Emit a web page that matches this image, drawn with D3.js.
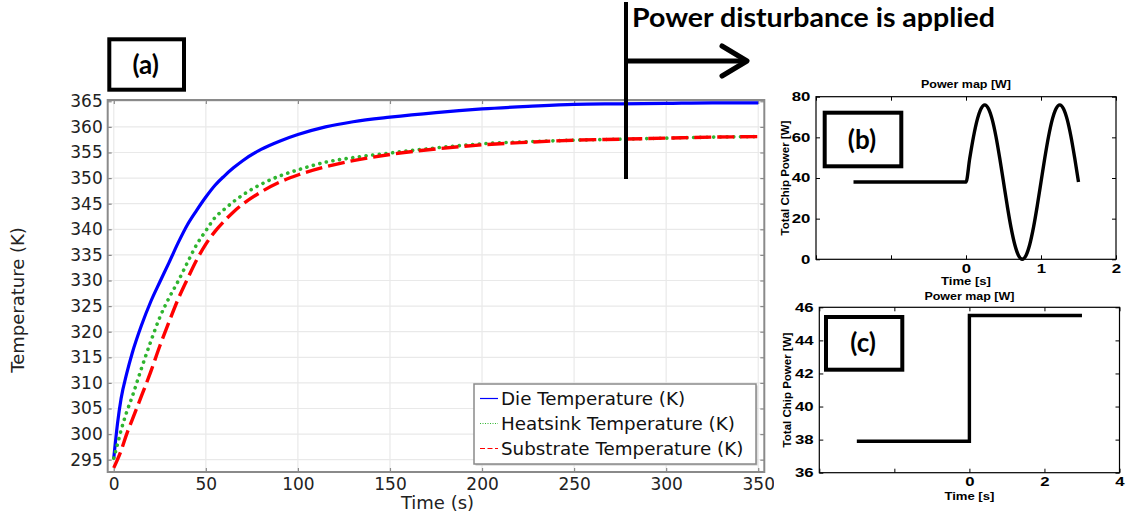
<!DOCTYPE html>
<html>
<head>
<meta charset="utf-8">
<script src="https://cdn.jsdelivr.net/npm/d3@7"></script>
<style>
  body { margin: 0; background: #fff; }
  svg { display: block; }
</style>
</head>
<body>
<div class="figure"></div>
<script>
// main chart (a): temperatures
const timeS = [0, 2, 4, 7, 10, 15, 20, 25, 30, 35, 40, 45, 50, 55, 60, 65, 70, 80, 90, 100, 115, 130, 150, 175, 200, 225, 250, 275, 300, 325, 350];
const dieTemp = [295.3, 302.0, 307.0, 311.8, 315.8, 321.2, 325.8, 329.7, 333.5, 337.4, 340.9, 343.7, 346.3, 348.6, 350.4, 352.0, 353.4, 355.6, 357.2, 358.5, 360.0, 361.0, 361.9, 362.8, 363.5, 364.0, 364.4, 364.5, 364.6, 364.7, 364.7];
const heatsinkTemp = [295.3, 298.0, 300.8, 304.3, 307.3, 312.8, 318.0, 322.8, 326.6, 329.9, 333.5, 337.0, 339.7, 342.3, 343.9, 345.4, 346.7, 348.8, 350.4, 351.6, 353.1, 354.0, 354.9, 355.9, 356.7, 357.1, 357.4, 357.6, 357.8, 358.0, 358.1];
const substrateTemp = [293.4, 295.0, 296.8, 300.0, 302.8, 307.4, 312.1, 317.2, 321.9, 326.4, 330.3, 334.0, 337.1, 339.6, 341.6, 343.4, 344.9, 347.3, 349.2, 350.6, 352.2, 353.4, 354.6, 355.7, 356.5, 357.0, 357.4, 357.6, 357.8, 358.0, 358.1];
const seriesNames = ["Die Temperature (K)", "Heatsink Temperature (K)", "Substrate Temperature (K)"];
const tempTicks = [295, 300, 305, 310, 315, 320, 325, 330, 335, 340, 345, 350, 355, 360, 365];
const timeTicks = [0, 50, 100, 150, 200, 250, 300, 350];

// subplot (b): sinusoidal power map
const powerBTime = [-1.5, 0, 0.05, 0.1, 0.15, 0.2, 0.25, 0.3, 0.35, 0.4, 0.45, 0.5, 0.55, 0.6, 0.65, 0.7, 0.75, 0.8, 0.85, 0.9, 0.95, 1.0, 1.05, 1.1, 1.15, 1.2, 1.25, 1.3, 1.35, 1.4, 1.45, 1.5];
const powerBWatt = [38, 38, 49.7, 60.3, 68.7, 74.1, 76, 74.1, 68.7, 60.3, 49.7, 38, 26.3, 15.7, 7.3, 1.9, 0, 1.9, 7.3, 15.7, 26.3, 38, 49.7, 60.3, 68.7, 74.1, 76, 74.1, 68.7, 60.3, 49.7, 38];
const powerBXTicks = [-2, -1, 0, 1, 2];
const powerBYTicks = [0, 20, 40, 60, 80];

// subplot (c): step power map
const powerCTime = [-3, 0, 0, 3];
const powerCWatt = [37.9, 37.9, 45.5, 45.5];
const powerCXTicks = [-4, -2, 0, 2, 4];
const powerCYTicks = [36, 38, 40, 42, 44, 46];

const W = 1126, H = 516;
const mainFont = "'DejaVu Sans', sans-serif";
const subFont = "'Liberation Sans', Arial, sans-serif";
const calloutFont = "Lato, 'Open Sans', sans-serif";

const svg = d3.select(".figure").append("svg")
    .attr("width", W)
    .attr("height", H);

svg.append("defs").append("clipPath")
    .attr("id", "mainClip")
    .append("rect")
    .attr("x", 0).attr("y", 0)
    .attr("width", 774).attr("height", H);

// ---------- main chart ----------
const main = svg.append("g").attr("clip-path", "url(#mainClip)");
const px0 = 107.7, px1 = 764.3, py0 = 100, py1 = 472;
const x = d3.scaleLinear().domain([-3.3, 353.3]).range([px0, px1]);
const y = d3.scaleLinear().domain([292.6, 365.25]).range([py1, py0]);

main.append("g")
    .selectAll("line")
    .data(timeTicks)
    .enter()
    .append("line")
    .attr("x1", d => x(d)).attr("x2", d => x(d))
    .attr("y1", py0).attr("y2", py1)
    .attr("stroke", "#e9e9e9")
    .attr("stroke-width", 1.2);
main.append("g")
    .selectAll("line")
    .data(tempTicks)
    .enter()
    .append("line")
    .attr("x1", px0).attr("x2", px1)
    .attr("y1", d => y(d)).attr("y2", d => y(d))
    .attr("stroke", "#e9e9e9")
    .attr("stroke-width", 1.2);

const axisStyle = (g) => {
    g.select(".domain").remove();
    g.selectAll(".tick line").attr("stroke", "#8a8a8a").attr("stroke-width", 1.2);
    g.selectAll(".tick text")
        .attr("font-family", mainFont)
        .attr("font-size", 17)
        .attr("fill", "#222");
};

main.append("g")
    .attr("transform", `translate(${px0},0)`)
    .call(d3.axisLeft(y).tickValues(tempTicks).tickSize(-4).tickPadding(5).tickFormat(d3.format("d")))
    .call(axisStyle);
main.append("g")
    .attr("transform", `translate(0,${py1})`)
    .call(d3.axisBottom(x).tickValues(timeTicks).tickSize(-4).tickPadding(6).tickFormat(d3.format("d")))
    .call(axisStyle);
main.append("g")
    .attr("transform", `translate(0,${py0})`)
    .call(d3.axisTop(x).tickValues(timeTicks).tickSize(-4).tickFormat(""))
    .call(axisStyle);
main.append("g")
    .attr("transform", `translate(${px1},0)`)
    .call(d3.axisRight(y).tickValues(tempTicks).tickSize(-4).tickFormat(""))
    .call(axisStyle);

main.append("rect")
    .attr("x", px0).attr("y", py0)
    .attr("width", px1 - px0).attr("height", py1 - py0)
    .attr("fill", "none")
    .attr("stroke", "#8a8a8a")
    .attr("stroke-width", 2);

const tempLine = (vals) => d3.line()
    .x((d, i) => x(timeS[i]))
    .y(d => y(d))
    .curve(d3.curveMonotoneX)(vals);

main.append("path")
    .attr("d", tempLine(dieTemp))
    .attr("fill", "none")
    .attr("stroke", "#0000ff")
    .attr("stroke-width", 3.2);
main.append("path")
    .attr("d", tempLine(heatsinkTemp))
    .attr("fill", "none")
    .attr("stroke", "#2fb52f")
    .attr("stroke-width", 3.6)
    .attr("stroke-linecap", "round")
    .attr("stroke-dasharray", "0.1,6.6");
main.append("path")
    .attr("d", tempLine(substrateTemp))
    .attr("fill", "none")
    .attr("stroke", "#ff0000")
    .attr("stroke-width", 3.4)
    .attr("stroke-dasharray", "17,6");

main.append("text")
    .attr("transform", "translate(19,300) rotate(-90)")
    .attr("text-anchor", "middle")
    .attr("dominant-baseline", "middle")
    .attr("font-family", mainFont)
    .attr("font-size", 18)
    .attr("fill", "#222")
    .text("Temperature (K)");
main.append("text")
    .attr("x", 437.5).attr("y", 509)
    .attr("text-anchor", "middle")
    .attr("font-family", mainFont)
    .attr("font-size", 18)
    .attr("fill", "#222")
    .text("Time (s)");

// legend
const legend = main.append("g").attr("transform", "translate(474,384)");
legend.append("rect")
    .attr("x", 1.5).attr("y", 1.5)
    .attr("width", 282).attr("height", 80)
    .attr("fill", "#c8c8c8");
legend.append("rect")
    .attr("width", 282).attr("height", 80)
    .attr("fill", "#fff")
    .attr("stroke", "#8a8a8a")
    .attr("stroke-width", 1.5);
const legendColors = ["#0000ff", "#2fb52f", "#ff0000"];
const legendDash = [null, "1,1.5", "5,2.5"];
seriesNames.forEach((name, i) => {
    legend.append("line")
        .attr("x1", 6).attr("x2", 24)
        .attr("y1", 14.5 + i * 25).attr("y2", 14.5 + i * 25)
        .attr("stroke", legendColors[i])
        .attr("stroke-width", 1.2)
        .attr("stroke-dasharray", legendDash[i]);
    legend.append("text")
        .attr("x", 27).attr("y", 20.5 + i * 25)
        .attr("font-family", mainFont)
        .attr("font-size", 18.3)
        .attr("fill", "#111")
        .text(name);
});

// ---------- small power-map subplots ----------
function powerPlot(opts) {
    const g = svg.append("g");
    const sx = d3.scaleLinear().domain(opts.xDomain).range([opts.left, opts.right]);
    const sy = d3.scaleLinear().domain(opts.yDomain).range([opts.bottom, opts.top]);
    const stretch = 1.4;

    const subStyle = (a) => {
        a.select(".domain").remove();
        a.selectAll(".tick line").attr("stroke", "#000").attr("stroke-width", 1);
        a.selectAll(".tick text")
            .attr("font-family", subFont)
            .attr("font-weight", "bold")
            .attr("font-size", 12)
            .attr("fill", "#000");
    };

    g.append("g")
        .attr("transform", `translate(0,${opts.bottom})`)
        .call(d3.axisBottom(sx).tickValues(opts.xTicks).tickSize(-4).tickPadding(5)
            .tickFormat(d => d < 0 ? "" : d3.format("d")(d)))
        .call(subStyle)
        .selectAll(".tick text")
        .attr("transform", `scale(${stretch},1)`);
    g.append("g")
        .attr("transform", `translate(0,${opts.top})`)
        .call(d3.axisTop(sx).tickValues(opts.xTicks).tickSize(-4).tickFormat(""))
        .call(subStyle);
    g.append("g")
        .attr("transform", `translate(${opts.left},0)`)
        .call(d3.axisLeft(sy).tickValues(opts.yTicks).tickSize(-4).tickPadding(4).tickFormat(d3.format("d")))
        .call(subStyle)
        .selectAll(".tick text")
        .attr("transform", `scale(${stretch},1)`);
    g.append("g")
        .attr("transform", `translate(${opts.right},0)`)
        .call(d3.axisRight(sy).tickValues(opts.yTicks).tickSize(-4).tickFormat(""))
        .call(subStyle);

    g.append("rect")
        .attr("x", opts.left).attr("y", opts.top)
        .attr("width", opts.right - opts.left).attr("height", opts.bottom - opts.top)
        .attr("fill", "none")
        .attr("stroke", "#000")
        .attr("stroke-width", 1.2);

    g.append("path")
        .attr("d", d3.line()
            .x((d, i) => sx(opts.t[i]))
            .y(d => sy(d))
            .curve(opts.curve)(opts.w))
        .attr("fill", "none")
        .attr("stroke", "#000")
        .attr("stroke-width", 3.4);

    const mid = (opts.left + opts.right) / 2;
    g.append("text")
        .attr("x", mid).attr("y", opts.titleY)
        .attr("text-anchor", "middle")
        .attr("font-family", subFont)
        .attr("font-weight", "bold")
        .attr("font-size", 10)
        .attr("textLength", 90)
        .attr("lengthAdjust", "spacingAndGlyphs")
        .text("Power map [W]");
    g.append("text")
        .attr("x", mid).attr("y", opts.xLabelY)
        .attr("text-anchor", "middle")
        .attr("font-family", subFont)
        .attr("font-weight", "bold")
        .attr("font-size", 10.5)
        .attr("textLength", 50)
        .attr("lengthAdjust", "spacingAndGlyphs")
        .text("Time [s]");
    g.append("text")
        .attr("transform", `translate(${opts.yLabelX},${(opts.top + opts.bottom) / 2}) rotate(-90)`)
        .attr("text-anchor", "middle")
        .attr("dominant-baseline", "middle")
        .attr("font-family", subFont)
        .attr("font-weight", "bold")
        .attr("font-size", 11.5)
        .text("Total Chip Power [W]");
    return g;
}

powerPlot({
    left: 816, right: 1116, top: 96.7, bottom: 259.3,
    xDomain: [-2, 2], yDomain: [0, 80],
    xTicks: powerBXTicks, yTicks: powerBYTicks,
    t: powerBTime, w: powerBWatt, curve: d3.curveMonotoneX,
    titleY: 88, xLabelY: 285, yLabelX: 786
});
powerPlot({
    left: 819.3, right: 1119.5, top: 307.3, bottom: 472.7,
    xDomain: [-4, 4], yDomain: [36, 46],
    xTicks: powerCXTicks, yTicks: powerCYTicks,
    t: powerCTime, w: powerCWatt, curve: d3.curveLinear,
    titleY: 299.5, xLabelY: 500, yLabelX: 788
});

// ---------- panel labels and the disturbance callout ----------
const panels = [
    { label: "(a)", x: 109.3, y: 39.3, w: 74.7, h: 50.4 },
    { label: "(b)", x: 824.7, y: 112.7, w: 76.6, h: 53.6 },
    { label: "(c)", x: 826, y: 317, w: 76.3, h: 52.7 }
];
panels.forEach(p => {
    svg.append("rect")
        .attr("x", p.x).attr("y", p.y)
        .attr("width", p.w).attr("height", p.h)
        .attr("fill", "none")
        .attr("stroke", "#000")
        .attr("stroke-width", 4);
    svg.append("text")
        .attr("x", p.x + p.w / 2 - 1).attr("y", p.y + p.h / 2 + 9)
        .attr("text-anchor", "middle")
        .attr("font-family", calloutFont)
        .attr("font-weight", "bold")
        .attr("font-size", 26)
        .attr("fill", "#000")
        .text(p.label);
});

svg.append("line")
    .attr("x1", 626).attr("x2", 626)
    .attr("y1", 2).attr("y2", 179)
    .attr("stroke", "#000")
    .attr("stroke-width", 4);
svg.append("line")
    .attr("x1", 626).attr("x2", 745)
    .attr("y1", 61).attr("y2", 61)
    .attr("stroke", "#000")
    .attr("stroke-width", 5);
svg.append("path")
    .attr("d", "M722,46 L747,61 L722,76")
    .attr("fill", "none")
    .attr("stroke", "#000")
    .attr("stroke-width", 5)
    .attr("stroke-linecap", "round")
    .attr("stroke-linejoin", "round");
svg.append("text")
    .attr("x", 632).attr("y", 27)
    .attr("font-family", calloutFont)
    .attr("font-weight", "bold")
    .attr("font-size", 27)
    .attr("textLength", 363)
    .attr("lengthAdjust", "spacingAndGlyphs")
    .attr("fill", "#000")
    .text("Power disturbance is applied");
</script>
</body>
</html>
